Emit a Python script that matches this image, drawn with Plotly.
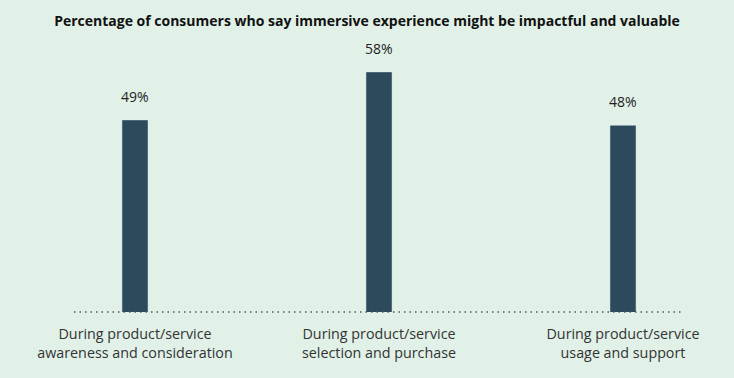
import plotly.graph_objects as go

categories = ["During product/service<br>awareness and consideration",
              "During product/service<br>selection and purchase",
              "During product/service<br>usage and support"]
values = [49, 58, 48]
labels = ["49%", "58%", "48%"]

title = "Percentage of consumers who say immersive experience might be impactful and valuable"

bg = "#E1F1E8"
bar_color = "#2B4A5C"
font_family = "Open Sans, Noto Sans, sans-serif"

fig = go.Figure()
fig.add_trace(go.Bar(x=[0, 1, 2], y=values, marker_color=bar_color, width=0.107,
                     hoverinfo="skip"))

for i, (v, t) in enumerate(zip(values, labels)):
    fig.add_annotation(x=i, y=v, text=t, showarrow=False, yanchor="bottom",
                       yshift=12, font=dict(size=14, color="#222222", family=font_family))

fig.add_shape(type="line", xref="paper", yref="paper", x0=0, x1=1, y0=0, y1=0,
              line=dict(color="#555555", width=1.5, dash="1.5px,4px"))

fig.update_layout(
    width=734, height=378,
    paper_bgcolor=bg, plot_bgcolor=bg,
    margin=dict(l=74, r=50, t=50, b=66),
    title=dict(text="<b>" + title + "</b>", x=0.5, xanchor="center", y=0.943, yanchor="middle",
               font=dict(size=14, color="#111111", family=font_family)),
    showlegend=False,
    xaxis=dict(range=[-0.25, 2.25], tickmode="array", tickvals=[0, 1, 2], ticktext=categories,
               showgrid=False, zeroline=False, showline=False, ticks="",
               ticklabelstandoff=12,
               tickfont=dict(size=14.3, color="#333333", family=font_family)),
    yaxis=dict(range=[13, 62.1], visible=False, showgrid=False, zeroline=False),
    font=dict(family=font_family),
)

fig.write_html("out.html", config={"displayModeBar": False},
               post_script="document.body.style.margin='0';document.body.style.background='%s';" % bg)
